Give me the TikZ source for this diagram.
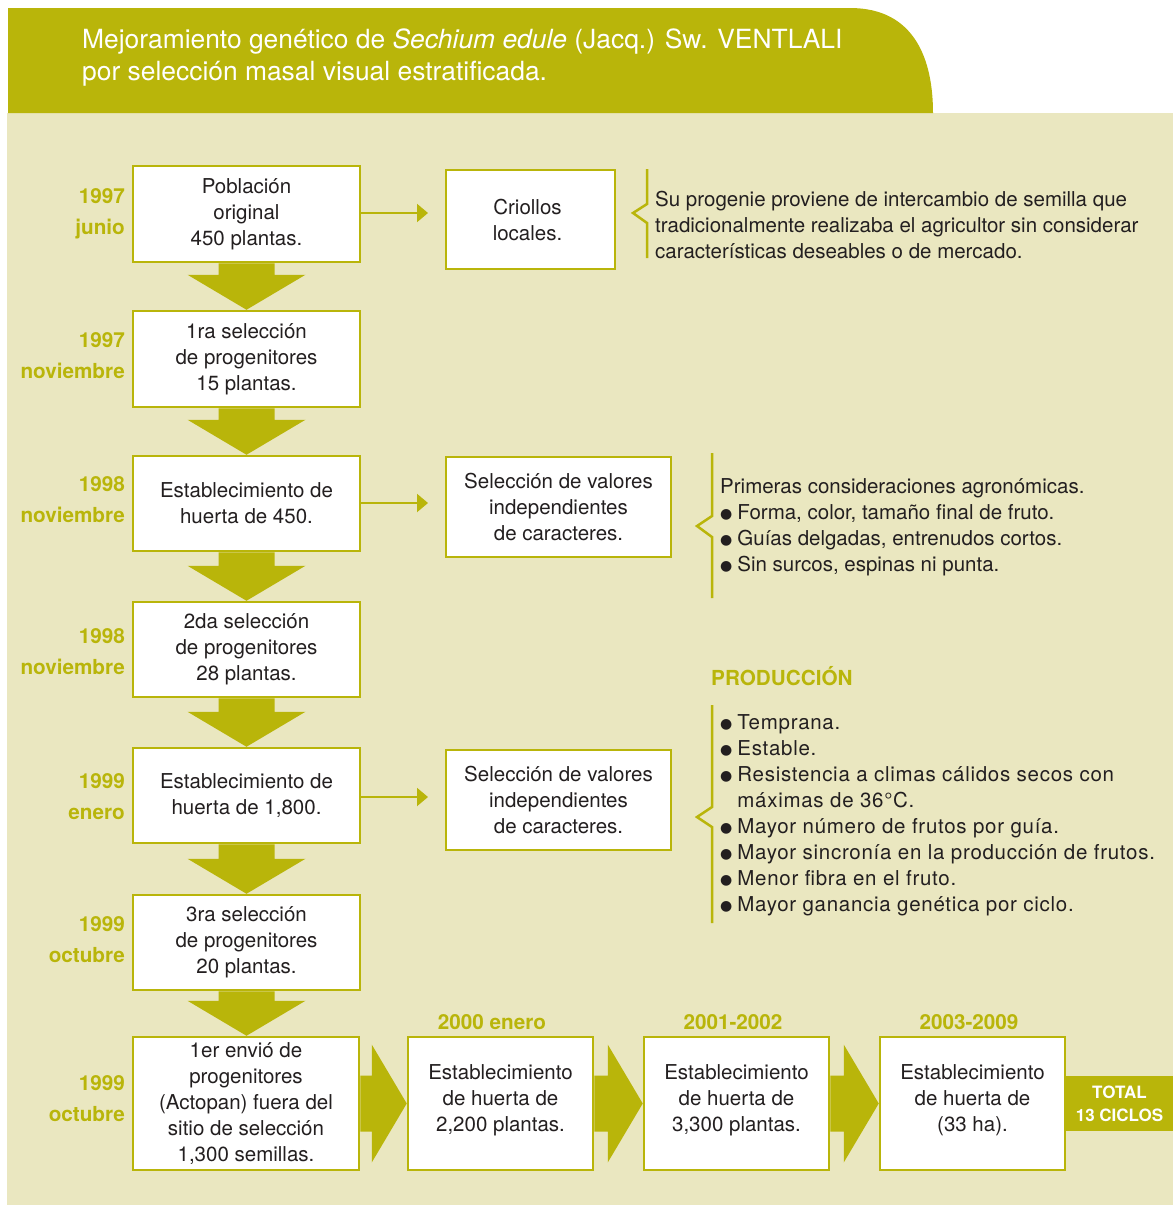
\documentclass[tikz,border=0pt]{standalone}
\usepackage{fontspec}
\setmainfont{TeX Gyre Heros}
\newfontfamily\dejavu{DejaVu Sans}
\newfontfamily\wide[LetterSpace=3.5]{TeX Gyre Heros}
\usetikzlibrary{arrows.meta,calc}
\definecolor{olv}{RGB}{185,181,10}
\definecolor{bgc}{RGB}{234,231,192}
\definecolor{txt}{RGB}{35,31,32}
\newcommand\bul{\raisebox{1pt}{\dejavu\fontsize{14}{26}\selectfont●}\hspace{5pt}}
\newcommand\fatdown[2]{\fill[olv] let \p1=(#1.south), \p2=(#2.north) in (\x1-28pt,\y1) -- (\x1+28pt,\y1) -- (\x1+28pt,\y2+35pt) -- (\x1+59pt,\y2+35pt) -- (\x1,\y2) -- (\x1-59pt,\y2+35pt) -- (\x1-28pt,\y2+35pt) -- cycle;}
\newcommand\fatright[2]{\fill[olv] let \p1=(#1.east), \p2=(#2.west) in (\x1,\y1+28pt) -- (\x2-35pt,\y1+28pt) -- (\x2-35pt,\y1+59pt) -- (\x2,\y1) -- (\x2-35pt,\y1-59pt) -- (\x2-35pt,\y1-28pt) -- (\x1,\y1-28pt) -- cycle;}
\begin{document}
\begin{tikzpicture}[x=1pt,y=-1pt,
  box/.style={draw=olv, line width=2.5pt, fill=white, inner sep=0pt, align=center, text=txt, font=\fontsize{20.5}{26}\selectfont},
  date/.style={anchor=east, inner sep=0pt, align=right, text=olv, font=\bfseries\fontsize{20.7}{31}\selectfont},
  toplab/.style={text=olv, inner sep=0pt, font=\bfseries\fontsize{20.7}{23}\selectfont},
  plain/.style={anchor=west, align=left, text=txt, inner sep=0pt, font=\fontsize{20.5}{26}\selectfont},
  thin/.style={draw=olv, line width=2pt, -{Triangle[width=18pt,length=11pt]}},
  brack/.style={draw=olv, line width=2.5pt}]
\useasboundingbox (0,0) rectangle (1173,1205);
% backgrounds
\fill[bgc] (7,113) rectangle (1173,1205);
\fill[olv] (8,8) -- (850,8) .. controls (915,8) and (933,60) .. (933,113) -- (8,113) -- cycle;
\node[anchor=west, text=white, inner sep=0pt, font=\fontsize{26.4}{32}\selectfont] (h1) at (82,42) {Mejoramiento genético de \textit{Sechium edule} (Jacq.) Sw. VENTLALI};
\node[anchor=west, text=white, inner sep=0pt, font=\fontsize{26.4}{32}\selectfont] (h2) at (82,74) {por selección masal visual estratificada.};
% invisible layout nodes for arrows
\path (246.5,214) node[box, minimum width=227, minimum height=96, draw=none, fill=none] (b1) {}
      (246.5,359) node[box, minimum width=227, minimum height=96, draw=none, fill=none] (b2) {}
      (246.5,503.5) node[box, minimum width=227, minimum height=95, draw=none, fill=none] (b3) {}
      (246.5,649.5) node[box, minimum width=227, minimum height=95, draw=none, fill=none] (b4) {}
      (246.5,795.5) node[box, minimum width=227, minimum height=95, draw=none, fill=none] (b5) {}
      (246.5,942.5) node[box, minimum width=227, minimum height=95, draw=none, fill=none] (b6) {}
      (246,1103.5) node[box, minimum width=226, minimum height=133, draw=none, fill=none] (b7) {}
      (500.5,1103.5) node[box, minimum width=185, minimum height=133, draw=none, fill=none] (b8) {}
      (736.5,1103.5) node[box, minimum width=185, minimum height=133, draw=none, fill=none] (b9) {}
      (972.5,1103.5) node[box, minimum width=185, minimum height=133, draw=none, fill=none] (b10) {};
\fatdown{b1}{b2}
\fatdown{b2}{b3}
\fatdown{b3}{b4}
\fatdown{b4}{b5}
\fatdown{b5}{b6}
\fatdown{b6}{b7}
\fatright{b7}{b8}
\fatright{b8}{b9}
\fatright{b9}{b10}
% main boxes
\node[box, minimum width=227, minimum height=96] (p1) at (b1) {Población\\original\\450 plantas.};
\node[box, minimum width=227, minimum height=96] (p2) at (b2) {1ra selección\\de progenitores\\15 plantas.};
\node[box, minimum width=227, minimum height=95] (p3) at (b3) {Establecimiento de\\huerta de 450.};
\node[box, minimum width=227, minimum height=95] (p4) at (b4) {2da selección\\de progenitores\\28 plantas.};
\node[box, minimum width=227, minimum height=95] (p5) at (b5) {Establecimiento de\\huerta de 1,800.};
\node[box, minimum width=227, minimum height=95] (p6) at (b6) {3ra selección\\de progenitores\\20 plantas.};
\node[box, minimum width=226, minimum height=133] (p7) at (b7) {1er envió de\\progenitores\\(Actopan) fuera del\\sitio de selección\\1,300 semillas.};
\node[box, minimum width=185, minimum height=133, text depth=10pt] (p8) at (b8) {Establecimiento\\de huerta de\\2,200 plantas.};
\node[box, minimum width=185, minimum height=133, text depth=10pt] (p9) at (b9) {Establecimiento\\de huerta de\\3,300 plantas.};
\node[box, minimum width=185, minimum height=133, text depth=10pt] (p10) at (b10) {Establecimiento\\de huerta de\\(33 ha).};
% side boxes
\node[box, minimum width=169, minimum height=99] (crio) at (530.5,219.5) {\hspace*{-6pt}Criollos\\\hspace*{-6pt}locales.};
\node[box, minimum width=225, minimum height=100] (sel1) at (558.5,507) {Selección de valores\\independientes\\de caracteres.};
\node[box, minimum width=225, minimum height=100] (sel2) at (558.5,800) {Selección de valores\\independientes\\de caracteres.};
% thin arrows
\coordinate (t1) at (428,213);
\draw[thin] (p1.east |- t1) -- (t1);
\coordinate (t2) at (428,503);
\draw[thin] (p3.east |- t2) -- (t2);
\coordinate (t3) at (428,797);
\draw[thin] (p5.east |- t3) -- (t3);
% brackets
\draw[brack] (647,169) -- (647,204) -- (633,213) -- (647,223) -- (647,258);
\draw[brack] (712,453) -- (712,516) -- (697,526) -- (712,537) -- (712,598);
\draw[brack] (712,705) -- (712,807) -- (697,817) -- (712,827) -- (712,923);
% side texts
\node[plain] (su) at (655,225) {Su progenie proviene de intercambio de semilla que\\tradicionalmente realizaba el agricultor sin considerar\\características deseables o de mercado.};
\node[plain] (prim) at (720,527) {Primeras consideraciones agronómicas.\\\bul Forma, color, tamaño final de fruto.\\\bul Guías delgadas, entrenudos cortos.\\\bul Sin surcos, espinas ni punta.};
\node[anchor=west, inner sep=0pt, text=olv, font=\bfseries\fontsize{20.7}{26}\selectfont] (prod) at (711,676) {PRODUCCIÓN};
\node[plain, font=\wide\fontsize{20.5}{26}\selectfont] (plist) at (720,815) {\bul Temprana.\\\bul Estable.\\\bul Resistencia a climas cálidos secos con\\\phantom{\bul}máximas de 36°C.\\\bul Mayor número de frutos por guía.\\\bul Mayor sincronía en la producción de frutos.\\\bul Menor fibra en el fruto.\\\bul Mayor ganancia genética por ciclo.};
% dates
\node[date] (d1) at (125,213.5) {1997\\junio};
\node[date] (d2) at (125,355.5) {1997\\noviembre};
\node[date] (d3) at (125,500) {1998\\noviembre};
\node[date] (d4) at (125,651.5) {1998\\noviembre};
\node[date] (d5) at (125,796.5) {1999\\enero};
\node[date] (d6) at (125,939.5) {1999\\octubre};
\node[date] (d7) at (125,1098.5) {1999\\octubre};
% top labels
\node[toplab] (y8) at (492,1022) {2000 enero};
\node[toplab] (y9) at (733,1022) {2001-2002};
\node[toplab] (y10) at (969,1022) {2003-2009};
% total
\node[fill=olv, inner sep=0pt, minimum width=107, minimum height=55, text=white, align=center, font=\bfseries\fontsize{17}{23}\selectfont] (tot) at (1119.5,1103.5) {TOTAL\\13 CICLOS};
\end{tikzpicture}
\end{document}
